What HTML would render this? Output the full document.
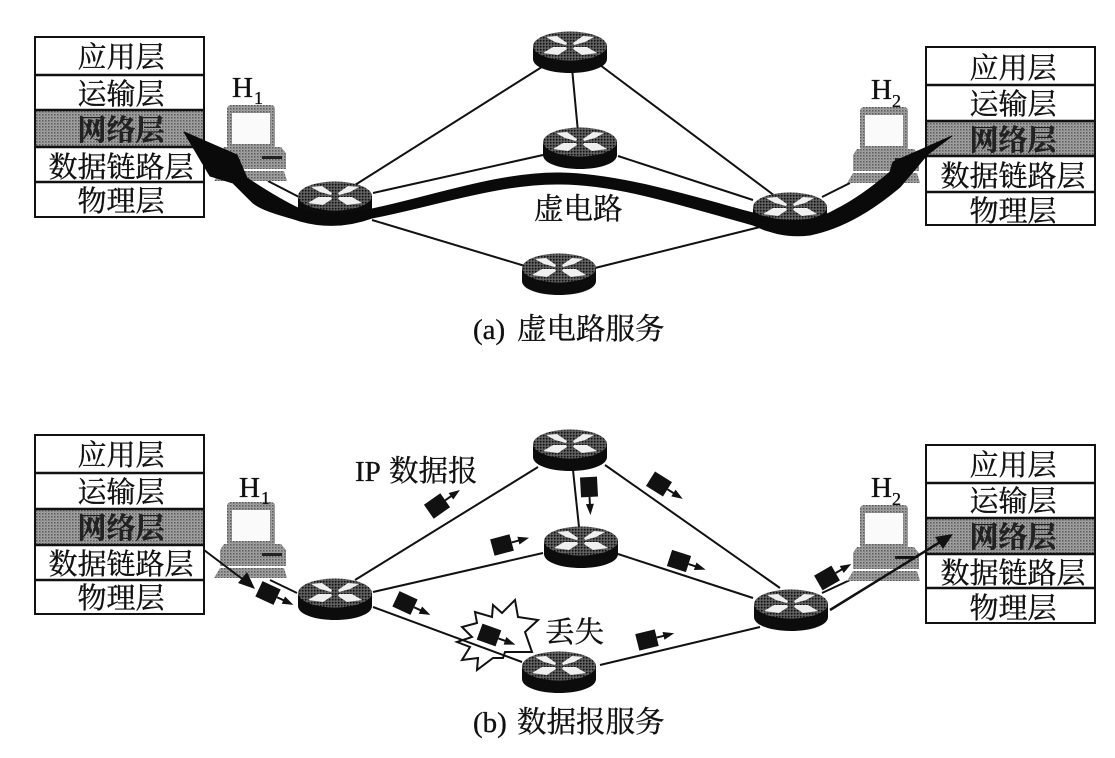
<!DOCTYPE html>
<html><head><meta charset="utf-8">
<style>html,body{margin:0;padding:0;background:#fff}svg{display:block}
text{font-family:"Liberation Serif","Noto Serif CJK SC",serif;fill:#111;stroke:#111;stroke-width:.35px}
.l{font-size:29px;text-anchor:middle}
.d{font-weight:700;fill:#222}
.h{font-size:29px}.s{font-size:18px}</style></head>
<body>
<svg width="1115" height="758" viewBox="0 0 1115 758" xmlns="http://www.w3.org/2000/svg">
<defs>
<pattern id="g" width="3" height="3" patternUnits="userSpaceOnUse"><rect width="3" height="3" fill="#a4a4a4"/><rect width="1.5" height="1.5" fill="#5a5a5a"/><rect x="1.5" y="1.5" width="1" height="1" fill="#777"/></pattern>
<pattern id="r" width="3" height="3" patternUnits="userSpaceOnUse"><rect width="3" height="3" fill="#555"/><rect width="1.5" height="1.5" fill="#111"/><rect x="1.5" y="1.5" width="1" height="1" fill="#888"/></pattern>
<g id="router">
<path d="M-37,-6 V7 C-37,16 -18,21 0,21 C18,21 37,16 37,7 V-6 Z" fill="#0c0c0c"/>
<ellipse cx="0" cy="-6" rx="37" ry="14.5" fill="url(#r)"/>
<path d="M-24,-15 L-13,-16 L-3,-9 L-4,-7 L-15,-10 Z M24,-15 L13,-16 L3,-9 L4,-7 L15,-10 Z M-27,1 L-17,-5 L-4,-5 L-3,-3 L-12,3 Z M27,1 L17,-5 L4,-5 L3,-3 L12,3 Z" fill="#efefef"/>
</g>
<g id="pc">
<rect x="0" y="0" width="48" height="44" rx="4" fill="url(#g)"/>
<rect x="5" y="8" width="38" height="31" fill="#fafafa"/>
<path d="M-3,42 H54 L59,48 V64 H-7 V48 Z" fill="url(#g)"/>
<rect x="35" y="51" width="20" height="3" fill="#222"/>
<path d="M-7,66 H57 L60,76 H-13 Z" fill="url(#g)"/>
</g>
<g id="p">
<rect x="-10" y="-8.5" width="20" height="17" fill="#111"/>
<path d="M10,0 H20" stroke="#111" stroke-width="2"/>
<path d="M17,-4 L28,0 L17,4 Z" fill="#111"/>
</g>
</defs>
<rect width="1115" height="758" fill="#fff"/>

<g stroke="#111" stroke-width="2">
<rect x="35" y="110" width="169" height="37" fill="url(#g)"/>
<rect x="35" y="37" width="169" height="180" fill="none"/>
<path d="M35,75H204M35,110H204M35,147H204M35,182H204" stroke-width="2.5"/>
<rect x="926" y="121" width="169" height="35" fill="url(#g)"/>
<rect x="926" y="47" width="169" height="178" fill="none"/>
<path d="M926,85H1095M926,121H1095M926,156H1095M926,192H1095" stroke-width="2.5"/>
<rect x="35" y="509" width="169" height="36" fill="url(#g)"/>
<rect x="35" y="435" width="169" height="179" fill="none"/>
<path d="M35,473H204M35,509H204M35,545H204M35,580H204" stroke-width="2.5"/>
<rect x="926" y="518" width="169" height="36" fill="url(#g)"/>
<rect x="926" y="445" width="169" height="178" fill="none"/>
<path d="M926,483H1095M926,518H1095M926,554H1095M926,588H1095" stroke-width="2.5"/>
</g>
<g>
<text class="l" x="121" y="67">应用层</text><text class="l" x="121" y="104">运输层</text><text class="l d" x="121" y="140">网络层</text><text class="l" x="121" y="177">数据链路层</text><text class="l" x="121" y="211">物理层</text>
<text class="l" x="1013" y="78">应用层</text><text class="l" x="1013" y="114">运输层</text><text class="l d" x="1013" y="150">网络层</text><text class="l" x="1013" y="186">数据链路层</text><text class="l" x="1013" y="221">物理层</text>
<text class="l" x="121" y="465">应用层</text><text class="l" x="121" y="502">运输层</text><text class="l d" x="121" y="538">网络层</text><text class="l" x="121" y="574">数据链路层</text><text class="l" x="121" y="608">物理层</text>
<text class="l" x="1013" y="475">应用层</text><text class="l" x="1013" y="511">运输层</text><text class="l d" x="1013" y="547">网络层</text><text class="l" x="1013" y="583">数据链路层</text><text class="l" x="1013" y="618">物理层</text>
</g>

<g stroke="#111" stroke-width="2" fill="none">
<path d="M355,185L545,65M572,68L578,132M600,65L775,196M373,193L543,155M618,156L753,200M372,220L525,266M595,268L760,227M268,181L299,197M822,197L850,183"/>
</g>
<use href="#pc" x="227" y="105"/>
<use href="#pc" x="860" y="107"/>
<use href="#router" x="570" y="52"/>
<use href="#router" x="580" y="148"/>
<use href="#router" x="335" y="202"/>
<use href="#router" x="790" y="213"/>
<use href="#router" x="559" y="274"/>

<path d="M184,132 L237,155 L247,178 C265,190 285,202 300,209 C320,217 350,214 372,209 C430,197 500,172 560,173 C620,174 690,196 753,213 C780,223 810,224 835,210 C855,200 875,185 890,172 L893,162 L952,136 L927,155 L900,187 C875,208 845,228 810,235 C785,238 770,232 753,225 C690,208 620,184 560,184 C500,183 430,207 372,218 C350,226 325,228 300,221 C285,216 265,212 253,203 L233,183 L210,176 Z" fill="#0a0a0a" stroke="#0a0a0a" stroke-width="1" stroke-linejoin="round"/>

<g stroke="#111" stroke-width="2" fill="none">
<path d="M355,580L538,467M573,470L579,527M605,465L780,588M373,592L543,553M618,554L753,598M600,665L760,627M270,580L297,593M822,593L850,580"/>
</g>
<use href="#pc" x="227" y="502"/>
<use href="#pc" x="860" y="505"/>
<polygon points="475,612 492,617 493,605 502,613 515,600 518,617 538,620 525,632 532,652 505,652 503,658 493,658 477,670 478,658 462,660 470,647 457,642 472,637 462,627 477,623" fill="#fff" stroke="#111" stroke-width="2"/>
<path d="M373,607L522,662" stroke="#111" stroke-width="2"/>
<path d="M830,610L945,539" stroke="#111" stroke-width="2.5"/>
<path d="M953,534L935,537L943,549Z" fill="#111"/>
<path d="M897,557H918" stroke="#111" stroke-width="2"/>
<path d="M204,550L245,581" stroke="#111" stroke-width="2"/>
<path d="M255,589L238,583L247,572Z" fill="#111"/>
<use href="#router" x="570" y="450"/>
<use href="#router" x="581" y="547"/>
<use href="#router" x="335" y="599"/>
<use href="#router" x="791" y="610"/>
<use href="#router" x="559" y="672"/>

<use href="#p" transform="translate(268,593) rotate(25)"/>
<use href="#p" transform="translate(437,506) rotate(-35)"/>
<use href="#p" transform="translate(502,545) rotate(-15)"/>
<use href="#p" transform="translate(589,487) rotate(87)"/>
<use href="#p" transform="translate(405,603) rotate(25)"/>
<use href="#p" transform="translate(489,635) rotate(20)"/>
<use href="#p" transform="translate(659,484) rotate(32)"/>
<use href="#p" transform="translate(679,561) rotate(18)"/>
<use href="#p" transform="translate(647,640) rotate(-14)"/>
<use href="#p" transform="translate(827,578) rotate(-30)"/>

<text class="h" x="232" y="97">H</text><text class="s" x="254" y="104">1</text>
<text class="h" x="871" y="99">H</text><text class="s" x="892" y="107">2</text>
<text class="h" x="239" y="497">H</text><text class="s" x="261" y="504">1</text>
<text class="h" x="871" y="497">H</text><text class="s" x="892" y="505">2</text>
<text x="534" y="219" font-size="29.5">虚电路</text>
<text x="473" y="339" font-size="29">(a)<tspan x="517" font-size="29.5">虚电路服务</tspan></text>
<text x="473" y="732" font-size="29">(b)<tspan x="517" font-size="29.5">数据报服务</tspan></text>
<text x="355" y="481" font-size="29">IP<tspan x="389" font-size="29.5">数据报</tspan></text>
<text x="545" y="642" font-size="29.5">丢失</text>
</svg>
</body></html>
